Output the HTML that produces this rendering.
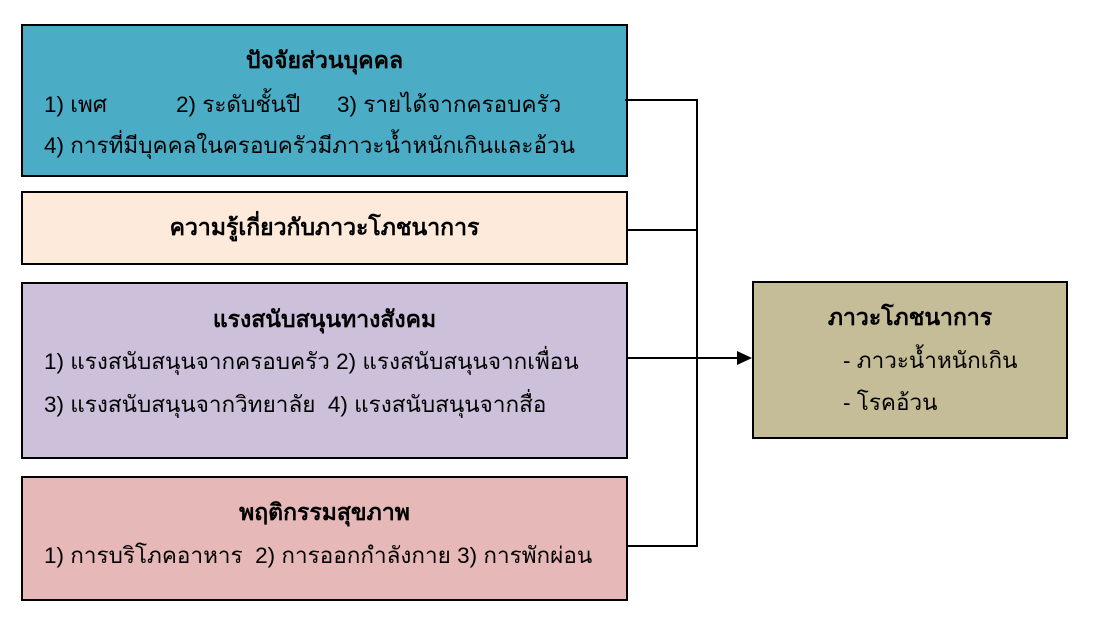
<!DOCTYPE html>
<html><head><meta charset="utf-8">
<style>
html,body{margin:0;padding:0;background:#fff;}
body{width:1117px;height:632px;position:relative;overflow:hidden;font-family:"Liberation Sans","DejaVu Sans",sans-serif;color:#000;}
.b{position:absolute;box-sizing:border-box;border:2px solid #000;}
.t{position:absolute;white-space:nowrap;font-size:22.5px;}
.h{font-weight:bold;font-size:23px;}
</style></head><body>
<div class="b" style="left:21px;top:24px;width:607px;height:153px;background:#4bacc6;"></div>
<div class="t h" style="left:0;width:649px;text-align:center;top:43px;">ปัจจัยส่วนบุคคล</div>
<div class="t" style="left:44px;top:86px;">1) เพศ</div>
<div class="t" style="left:176px;top:86px;">2) ระดับชั้นปี</div>
<div class="t" style="left:337px;top:86px;">3) รายได้จากครอบครัว</div>
<div class="t" style="left:44px;top:127px;">4) การที่มีบุคคลในครอบครัวมีภาวะน้ำหนักเกินและอ้วน</div>

<div class="b" style="left:21px;top:191px;width:607px;height:74px;background:#fdeada;"></div>
<div class="t h" style="left:0;width:649px;text-align:center;top:210px;">ความรู้เกี่ยวกับภาวะโภชนาการ</div>

<div class="b" style="left:21px;top:282px;width:607px;height:177px;background:#ccc0da;"></div>
<div class="t h" style="left:0;width:649px;text-align:center;top:302px;">แรงสนับสนุนทางสังคม</div>
<div class="t" style="left:44px;top:343px;">1) แรงสนับสนุนจากครอบครัว 2) แรงสนับสนุนจากเพื่อน</div>
<div class="t" style="left:44px;top:386px;">3) แรงสนับสนุนจากวิทยาลัย&nbsp;&nbsp;4) แรงสนับสนุนจากสื่อ</div>

<div class="b" style="left:21px;top:476px;width:607px;height:125px;background:#e6b9b8;"></div>
<div class="t h" style="left:0;width:649px;text-align:center;top:495px;">พฤติกรรมสุขภาพ</div>
<div class="t" style="left:44px;top:537px;">1) การบริโภคอาหาร&nbsp;&nbsp;2) การออกกำลังกาย 3) การพักผ่อน</div>

<div class="b" style="left:752px;top:281px;width:316px;height:158px;background:#c4bd97;"></div>
<div class="t h" style="left:752px;width:316px;text-align:center;top:300px;">ภาวะโภชนาการ</div>
<div class="t" style="left:843px;top:342px;">- ภาวะน้ำหนักเกิน</div>
<div class="t" style="left:843px;top:384px;">- โรคอ้วน</div>

<svg width="1117" height="632" style="position:absolute;left:0;top:0;">
<g stroke="#000" stroke-width="2" fill="none">
<path d="M625 100 H697 V546 H628"/>
<path d="M628 230 H697"/>
<path d="M628 358 H740"/>
</g>
<polygon points="752,358 737,351 737,365" fill="#000"/>
</svg>
</body></html>
